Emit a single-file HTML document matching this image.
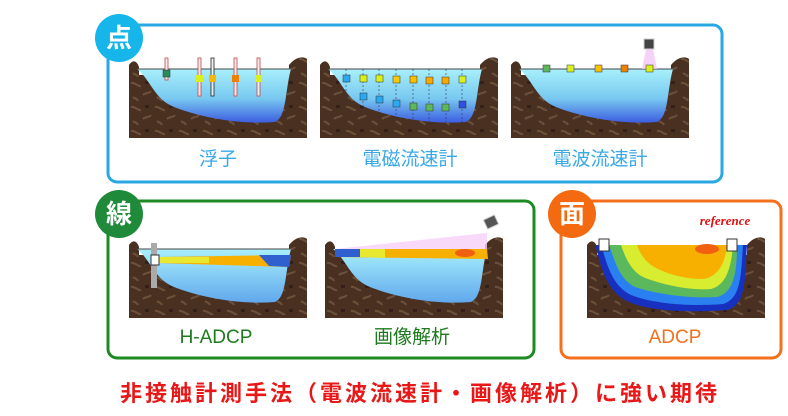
<!DOCTYPE html>
<html><head><meta charset="utf-8"><style>
body{margin:0;background:#fff;}
svg{display:block;font-family:"Liberation Sans","Noto Sans CJK JP",sans-serif;}
</style></head><body>
<svg width="788" height="416" viewBox="0 0 788 416">
<defs>
<linearGradient id="w" x1="0" y1="0" x2="0" y2="1"><stop offset="0" stop-color="#a8f0fc"/><stop offset="0.55" stop-color="#78c8f0"/><stop offset="1" stop-color="#3c5ee0"/></linearGradient>
<linearGradient id="w2" x1="0" y1="0" x2="0" y2="1"><stop offset="0" stop-color="#a8f0fc"/><stop offset="1" stop-color="#60a8ec"/></linearGradient>
<pattern id="dirt" width="24" height="24" patternUnits="userSpaceOnUse"><rect width="24" height="24" fill="#4a3020"/><path d="M2,4 C6,3 9,8 12,7 M14,16 C17,13 20,15 22,12 M4,18 C6,20 8,19 9,22" stroke="#7a6048" stroke-width="2" fill="none" opacity=".7"/><rect x="16" y="2" width="4" height="3" fill="#34201a"/></pattern>
<g id="bank">
<rect x="0" y="0" width="178" height="83" fill="#fff"/>
<path d="M0,10 C4,4 8,6 10,12 L10,83 L0,83Z M160,10 C168,0 176,2 178,4 L178,83 L160,83Z" fill="url(#dirt)"/>
<rect x="0" y="20" width="178" height="63" fill="url(#dirt)"/>
</g>
<path id="water" d="M8,14 L162,14 C156,35 158,62 146,67 C110,70 70,62 45,52 C25,44 22,25 8,14Z"/>
</defs>

<rect x="108" y="25" width="614" height="157" rx="9" fill="none" stroke="#2aa8e4" stroke-width="3"/>
<rect x="108" y="201" width="426" height="157" rx="9" fill="none" stroke="#1e8a22" stroke-width="3"/>
<rect x="561" y="201" width="220" height="157" rx="9" fill="none" stroke="#f4701e" stroke-width="3"/>

<g transform="translate(129,55)"><use href="#bank"/><use href="#water" fill="url(#w)"/><line x1="8" y1="14" x2="162" y2="14" stroke="#444"/>
<g fill="#eee" stroke="#c44" stroke-width=".8"><rect x="36" y="3" width="3" height="22"/><rect x="69" y="3" width="3" height="38"/><rect x="82" y="3" width="3" height="38" stroke="#222"/><rect x="105" y="3" width="3" height="38"/><rect x="128" y="3" width="3" height="38"/></g>
<rect x="34" y="15" width="7" height="7" fill="#2a8a5a" stroke="#333" stroke-width=".5"/><rect x="67" y="20" width="7" height="7" fill="#d8f020"/><rect x="80" y="20" width="7" height="7" fill="#f8b800"/><rect x="103" y="20" width="7" height="7" fill="#f08000"/><rect x="126" y="20" width="7" height="7" fill="#d8f020"/></g>
<g transform="translate(320,55)"><use href="#bank"/><use href="#water" fill="url(#w)"/><line x1="8" y1="14" x2="162" y2="14" stroke="#444"/>
<g stroke="#335" stroke-dasharray="2,2" stroke-width=".6"><line x1="26" y1="14" x2="26" y2="50"/><line x1="43" y1="14" x2="43" y2="60"/><line x1="59" y1="14" x2="59" y2="64"/><line x1="76" y1="14" x2="76" y2="66"/><line x1="93" y1="14" x2="93" y2="68"/><line x1="109" y1="14" x2="109" y2="68"/><line x1="126" y1="14" x2="126" y2="68"/><line x1="142" y1="14" x2="142" y2="68"/></g>
<g stroke="#333" stroke-width=".5"><rect x="23" y="20" width="7" height="7" fill="#2aa8f0"/><rect x="40" y="20" width="7" height="7" fill="#d8f020"/><rect x="56" y="20" width="7" height="7" fill="#d8f020"/><rect x="73" y="21" width="7" height="7" fill="#f8c800"/><rect x="90" y="21" width="7" height="7" fill="#f8c000"/><rect x="106" y="22" width="7" height="7" fill="#f8a800"/><rect x="122" y="22" width="7" height="7" fill="#f8a800"/><rect x="139" y="21" width="7" height="7" fill="#d8f020"/>
<rect x="40" y="38" width="7" height="7" fill="#2aa8f0"/><rect x="56" y="41" width="7" height="7" fill="#2aa8f0"/><rect x="73" y="45" width="7" height="7" fill="#2aa8f0"/><rect x="90" y="48" width="7" height="7" fill="#5cb85c"/><rect x="106" y="49" width="7" height="7" fill="#5cb85c"/><rect x="122" y="49" width="7" height="7" fill="#5cb85c"/><rect x="139" y="46" width="7" height="7" fill="#3050e0"/></g></g>
<g transform="translate(511,55)"><use href="#bank"/><use href="#water" fill="url(#w)"/><line x1="8" y1="14" x2="162" y2="14" stroke="#444"/>
<path d="M135,-6 L131,14 L146,14 L142,-6Z" fill="#f4c8f4" opacity=".8"/><rect x="133" y="-16" width="10" height="10" fill="#444" stroke="#ccc"/>
<g stroke="#333" stroke-width=".5"><rect x="32" y="10" width="7" height="7" fill="#5cb85c"/><rect x="56" y="10" width="7" height="7" fill="#d8f020"/><rect x="84" y="10" width="7" height="7" fill="#f8c000"/><rect x="110" y="10" width="7" height="7" fill="#f08000"/><rect x="135" y="10" width="7" height="7" fill="#d8f020"/></g></g>

<g transform="translate(129,235)"><use href="#bank"/><use href="#water" fill="url(#w2)"/><line x1="8" y1="14" x2="162" y2="14" stroke="#444"/>
<path d="M28,22 L162,20 L160,32 L28,28Z" fill="#f8b000"/><path d="M130,20 L162,20 L160,32 L140,31Z" fill="#3060d0"/><path d="M28,22 L80,22 L80,28 L28,28Z" fill="#e8e830"/>
<rect x="22" y="8" width="6" height="45" fill="#aaa"/><rect x="22" y="20" width="8" height="10" fill="#fff" stroke="#333"/></g>
<g transform="translate(325,235)"><use href="#bank"/><use href="#water" fill="url(#w2)"/>
<path d="M10,14 L162,14 L163,24 L10,22Z" fill="#f8b000"/><path d="M10,14 L35,14 L35,22 L10,22Z" fill="#3060d0"/><path d="M35,14 L60,14 L60,23 L35,22Z" fill="#e8e830"/><ellipse cx="140" cy="18" rx="10" ry="4" fill="#f06010"/>
<path d="M10,14 L162,-2 L162,14Z" fill="#f8d0f8" opacity=".8"/><rect x="160" y="-18" width="12" height="10" fill="#555" stroke="#ccc" transform="rotate(-25 166 -13)"/></g>
<g transform="translate(587,235)"><use href="#bank"/>
<path d="M8,10 L160,10 C158,40 160,70 140,75 C100,78 60,76 40,66 C18,55 14,30 8,10Z" fill="#1830c0"/>
<path d="M14,10 L156,10 C154,40 154,64 136,69 C100,72 64,68 44,60 C24,50 20,28 14,10Z" fill="#2a80f0"/>
<path d="M22,10 L150,10 C150,40 146,58 130,62 C100,64 66,58 48,52 C32,44 28,26 22,10Z" fill="#5cb85c"/>
<path d="M34,10 L146,10 C144,36 138,50 124,54 C100,56 70,48 56,42 C44,36 38,22 34,10Z" fill="#d8ec30"/>
<path d="M50,10 L140,10 C138,30 130,42 116,44 C96,44 76,38 64,30 C56,24 52,16 50,10Z" fill="#f8b000"/>
<ellipse cx="120" cy="14" rx="12" ry="5" fill="#f06010"/>
<rect x="12" y="4" width="10" height="12" fill="#fff" stroke="#333"/><rect x="140" y="4" width="10" height="12" fill="#fff" stroke="#333"/></g>

<circle cx="119" cy="38" r="24" fill="#16b6ea"/><text x="119" y="47" font-size="26" font-weight="bold" fill="#fff" text-anchor="middle">点</text>
<circle cx="119" cy="214" r="24" fill="#1e8a3a"/><text x="119" y="223" font-size="26" font-weight="bold" fill="#fff" text-anchor="middle">線</text>
<circle cx="572" cy="214" r="24" fill="#f46a10"/><text x="572" y="223" font-size="26" font-weight="bold" fill="#fff" text-anchor="middle">面</text>

<text x="725" y="225" font-family="Liberation Serif,serif" font-style="italic" font-weight="bold" font-size="13" fill="#e01010" text-anchor="middle">reference</text>

<g font-size="19" text-anchor="middle" fill="#38a8e8">
<text x="218" y="165">浮子</text><text x="410" y="165">電磁流速計</text><text x="600" y="165">電波流速計</text></g>
<g font-size="19" text-anchor="middle" fill="#1e7a1e">
<text x="216" y="343">H-ADCP</text><text x="412" y="343">画像解析</text></g>
<text x="675" y="343" font-size="19" text-anchor="middle" fill="#f4701e">ADCP</text>
<text x="420" y="401" font-size="22" font-weight="bold" letter-spacing="3" text-anchor="middle" fill="#e81818">非接触計測手法（電波流速計・画像解析）に強い期待</text>
</svg>
</body></html>
